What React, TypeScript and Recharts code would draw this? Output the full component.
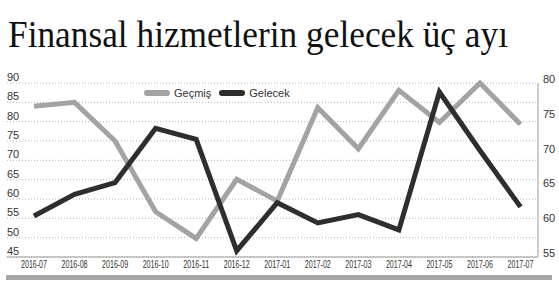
import { LineChart, Line, XAxis, YAxis, CartesianGrid } from "recharts"

const months = [
  "2016-07", "2016-08", "2016-09", "2016-10", "2016-11", "2016-12", "2017-01",
  "2017-02", "2017-03", "2017-04", "2017-05", "2017-06", "2017-07",
]
const gecmis = [84, 85, 75, 56.7, 49.8, 65.1, 59.5, 83.6, 73, 88.1, 79.8, 90, 79.3]
const gelecek = [60.9, 64, 65.7, 73.5, 71.9, 55.9, 62.8, 59.9, 61.1, 58.9, 78.7, 70.3, 62.2]
const leftTicks = [45, 50, 55, 60, 65, 70, 75, 80, 85, 90]
const rightTicks = [55, 60, 65, 70, 75, 80]

const data = months.map((month, i) => ({ month, gecmis: gecmis[i], gelecek: gelecek[i] }))

const GRAY = "#a3a3a3"
const DARK = "#2e2e2e"
const AXIS = "#9a9a9a"
const FONT = "'Liberation Sans Narrow', 'Liberation Sans', sans-serif"

function LeftTick({ y, payload }: any) {
  return (
    <text x={7} y={y - 2} fontSize={11} fontFamily={FONT} fill="#333">
      {payload.value}
    </text>
  )
}

function RightTick({ x, y, payload }: any) {
  return (
    <text x={x + 3} y={y} fontSize={11} fontFamily={FONT} fill="#333">
      {payload.value}
    </text>
  )
}

function MonthTick({ x, y, payload }: any) {
  return (
    <text
      x={x}
      y={y + 9}
      textAnchor="middle"
      fontSize={10}
      fontFamily={FONT}
      fill="#333"
      textLength={26}
      lengthAdjust="spacingAndGlyphs"
    >
      {payload.value}
    </text>
  )
}

function LegendItem({ color, label }: { color: string; label: string }) {
  return (
    <span style={{ display: "inline-flex", alignItems: "center", marginRight: 8 }}>
      <svg width={26} height={8} style={{ marginRight: 4 }}>
        <line x1={3} y1={4} x2={23} y2={4} stroke={color} strokeWidth={6} strokeLinecap="round" />
      </svg>
      <span>{label}</span>
    </span>
  )
}

export default function App() {
  return (
    <div style={{ position: "fixed", left: 0, top: 0, width: 559, height: 283, background: "#fff" }}>
      <svg width={559} height={72} style={{ position: "absolute", left: 0, top: 0 }}>
        <text
          x={8}
          y={47}
          fontSize={37}
          fontFamily="'Liberation Serif', 'DejaVu Serif', serif"
          fill="#111"
          textLength={500}
          lengthAdjust="spacingAndGlyphs"
        >
          Finansal hizmetlerin gelecek üç ayı
        </text>
      </svg>
      <div style={{ position: "absolute", left: 0, top: 0 }}>
        <LineChart width={559} height={283} data={data} margin={{ top: 83, right: 3, bottom: 6, left: 6 }}>
          <CartesianGrid
            yAxisId="left"
            vertical={false}
            stroke="#b5b5b5"
            strokeDasharray="1 2"
          />
          <XAxis
            dataKey="month"
            height={20}
            padding={{ left: 27, right: 17.5 }}
            axisLine={{ stroke: AXIS }}
            tickLine={false}
            tickSize={0}
            interval={0}
            tick={<MonthTick />}
          />
          <YAxis
            yAxisId="left"
            orientation="left"
            width={1}
            domain={[45, 90]}
            ticks={leftTicks}
            interval={0}
            axisLine={false}
            tickLine={false}
            tick={<LeftTick />}
          />
          <YAxis
            yAxisId="right"
            orientation="right"
            width={18}
            domain={[55, 80]}
            ticks={rightTicks}
            interval={0}
            axisLine={{ stroke: AXIS }}
            tickLine={false}
            tickSize={0}
            tick={<RightTick />}
          />
          <Line
            yAxisId="left"
            dataKey="gecmis"
            stroke={GRAY}
            strokeWidth={5}
            dot={false}
            strokeLinejoin="miter"
            isAnimationActive={false}
          />
          <Line
            yAxisId="right"
            dataKey="gelecek"
            stroke={DARK}
            strokeWidth={5}
            dot={false}
            strokeLinejoin="miter"
            isAnimationActive={false}
          />
        </LineChart>
      </div>
      <div
        style={{
          position: "absolute",
          left: 144,
          top: 86,
          display: "flex",
          fontSize: 11,
          fontFamily: "'Liberation Sans', sans-serif",
          color: "#333",
          lineHeight: "14px",
          background: "#fff",
        }}
      >
        <LegendItem color={GRAY} label="Geçmiş" />
        <LegendItem color={DARK} label="Gelecek" />
      </div>
      <div style={{ position: "absolute", left: 6, top: 275, width: 546, height: 4.5, background: "#a6a6a6" }} />
    </div>
  )
}
